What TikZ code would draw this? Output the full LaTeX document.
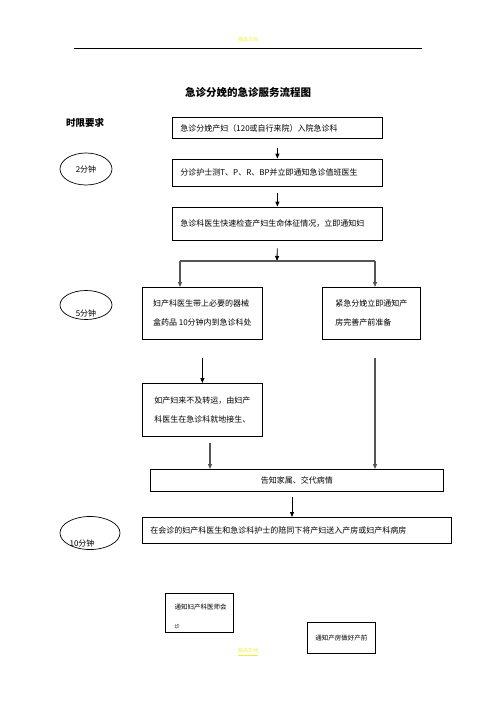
\documentclass[tikz,border=0pt]{standalone}
\usepackage{fontspec}
\newfontfamily\cjk{Noto Sans CJK SC}
\usetikzlibrary{arrows.meta,calc,shapes.geometric}
\definecolor{mark}{RGB}{240,240,60}
\definecolor{darkgr}{RGB}{85,85,85}
\tikzset{pin/.style={-{Triangle[length=5pt,width=4pt]}, line width=0.8pt},
  gpin/.style={pin, draw=darkgr, line width=1.1pt},
  blk/.style={draw, line width=0.8pt, font=\cjk\fontsize{8}{10}\selectfont, inner sep=7pt},
  wide/.style={blk, minimum width=210pt, text width=194pt, align=left, anchor=west},
  oval/.style={draw, ellipse, line width=0.7pt},
  tag/.style={font=\cjk\fontsize{8}{10}\selectfont}}

\begin{document}
\begin{tikzpicture}[x=1pt, y=-1pt]
  \useasboundingbox (0,0) rectangle (496,702);
  % header and title
  \node[font=\cjk\fontsize{5}{6}\selectfont, text=mark] (head) at (248,40) {精品文档};
  \draw[line width=0.8pt] (74,48) -- (422,48);
  \node[font=\cjk\bfseries\fontsize{10.5}{12}\selectfont] (title) at (248,92) {急诊分娩的急诊服务流程图};
  \node[font=\cjk\bfseries\fontsize{9.5}{11}\selectfont] (limit) at (85,123) {时限要求};
  % main column
  \node[wide, minimum height=20pt] (arrive) at (172,128) {急诊分娩产妇（120或自行来院）入院急诊科};
  \node[wide, minimum height=27pt] (triage) at (172,172.5) {分诊护士测T、P、R、BP并立即通知急诊值班医生};
  \node[wide, minimum height=33pt] (check) at (172,223.5) {急诊科医生快速检查产妇生命体征情况，立即通知妇};
  \draw[pin, shorten <=9pt] (arrive.south) -- (triage.north);
  \draw[pin, shorten <=7pt] (triage.south) -- (check.north);
  % branch
  \coordinate (jn) at (277,261);
  \coordinate (jl) at (180,261);
  \coordinate (jr) at (375,261);
  \draw[pin, shorten <=8pt] (check.south) -- (jn);
  \draw[draw=darkgr, line width=1.1pt] (jl) -- (jr);
  \node[blk, minimum width=120pt, minimum height=52pt, align=left, anchor=north west] (obst) at (142,287)
    {妇产科医生带上必要的器械\\[9pt]盒药品 10分钟内到急诊科处};
  \node[blk, minimum width=98pt, minimum height=52pt, align=left, anchor=north west] (room) at (322,287)
    {紧急分娩立即通知产\\[9pt]房完善产前准备};
  \draw[gpin] (jl) -- (jl |- obst.north);
  \draw[gpin] (jr) -- (jr |- room.north);
  \node[blk, minimum width=120pt, minimum height=53pt, align=left, anchor=north west] (local) at (142,383)
    {如产妇来不及转运，由妇产\\[9pt]科医生在急诊科就地接生、};
  \draw[pin, shorten <=18pt] (obst.south) -- (local.north);
  \node[blk, minimum width=293pt, minimum height=20pt, anchor=north west] (inform) at (150,469) {告知家属、交代病情};
  \node[blk, minimum width=309pt, minimum height=26pt, anchor=north west, text width=293pt, align=left] (send) at (142,517)
    {在会诊的妇产科医生和急诊科护士的陪同下将产妇送入产房或妇产科病房};
  % long and short drops
  \coordinate (rt) at (375,469);
  \coordinate (lc) at (210,436);
  \coordinate (ic) at (292,489);
  \draw[gpin, shorten <=18pt] (rt |- room.south) -- (rt);
  \draw[gpin, shorten <=7pt] (lc) -- (lc |- inform.north);
  \draw[pin, shorten <=8pt] (ic) -- (ic |- send.north);
  % time limits
  \node[oval, minimum width=52pt, minimum height=32pt] (t2) at (86,169) {};
  \node[tag] at (t2.center) {2分钟};
  \node[oval, minimum width=52pt, minimum height=29pt] (t5) at (86,305) {};
  \node[tag] at ($(t5.center)+(0,8)$) {5分钟};
  \node[oval, minimum width=60pt, minimum height=33pt] (t10) at (90,533) {};
  \node[tag] at ($(t10.center)+(-8,10)$) {10分钟};
  % bottom notes
  \node[draw, line width=0.8pt, minimum width=68pt, minimum height=39pt, anchor=north west] (call) at (165,593) {};
  \node[font=\cjk\fontsize{6.5}{8}\selectfont, anchor=west] (calltxt) at (171,607) {通知妇产科医师会};
  \node[font=\cjk\fontsize{5}{6}\selectfont, anchor=west] (calltxt2) at (171,627) {诊};
  \node[draw, line width=0.8pt, minimum width=68pt, minimum height=31pt, font=\cjk\fontsize{6.5}{8}\selectfont, anchor=north west] (prep) at (307,622) {通知产房做好产前};
  \node[font=\cjk\fontsize{5}{6}\selectfont, text=mark] (foot) at (248,652) {\underline{精品文档}};
\end{tikzpicture}
\end{document}
